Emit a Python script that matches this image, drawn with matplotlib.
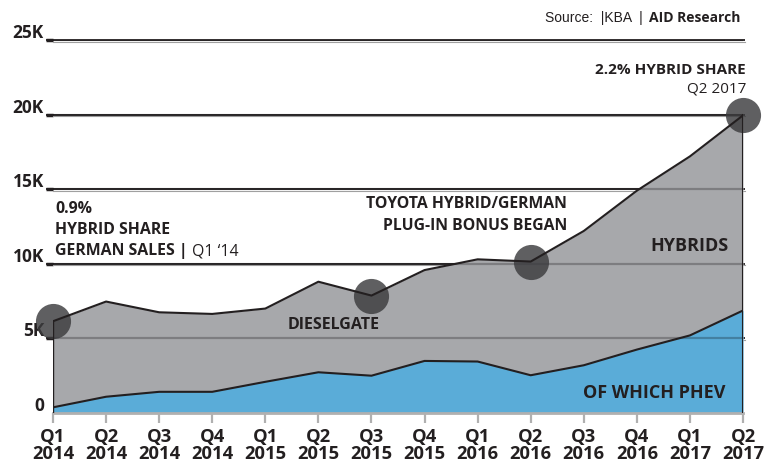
import matplotlib.pyplot as plt
import matplotlib.transforms as mtransforms
import numpy as np

plt.rcParams['font.family'] = ['Open Sans', 'DejaVu Sans']

# quarterly German hybrid registrations
quarters = ["Q1\n2014", "Q2\n2014", "Q3\n2014", "Q4\n2014", "Q1\n2015", "Q2\n2015", "Q3\n2015",
            "Q4\n2015", "Q1\n2016", "Q2\n2016", "Q3\n2016", "Q4\n2016", "Q1\n2017", "Q2\n2017"]
hybrids = [6150, 7470, 6750, 6640, 7000, 8800, 7870, 9580, 10300, 10150, 12200, 14900, 17200, 19950]
phev = [380, 1090, 1420, 1420, 2090, 2730, 2500, 3490, 3450, 2530, 3200, 4250, 5200, 6870]
highlight_idx = [0, 6, 9, 13]
yticks = [0, 5000, 10000, 15000, 20000, 25000]
ytick_labels = ["0", "5K", "10K", "15K", "20K", "25K"]

dark = '#231f20'
grey_area = '#a7a8ab'
blue_area = '#5aacd8'

fig = plt.figure(figsize=(7.71, 4.72), dpi=100)
ax = fig.add_axes([53 / 771, 59 / 472, 690 / 771, 373 / 472])
x = np.arange(len(quarters))
ax.set_xlim(0, len(quarters) - 1)
ax.set_ylim(0, 25000)
ax.axis('off')

# gridlines (under the areas, and lightly again over them)
ytrans = ax.get_yaxis_transform()
below = mtransforms.offset_copy(ytrans, fig=fig, y=-1.5, units='dots')
for v in yticks[1:]:
    ax.plot([-0.010, 1.003], [v, v], transform=ytrans, color=dark, lw=1.3, clip_on=False, zorder=1,
            solid_capstyle='butt')
    ax.plot([-0.010, 0.0], [v, v], transform=ytrans, color=dark, lw=2.5, clip_on=False, zorder=1,
            solid_capstyle='butt')
    ax.plot([0.0, 1.003], [v, v], transform=below, color='#a0a0a0', lw=0.8, clip_on=False, zorder=1)
    ax.plot([0.0, 1.0], [v, v], transform=ytrans, color='black', alpha=0.25, lw=1.6, zorder=3)

# stacked areas
ax.fill_between(x, 0, hybrids, color=grey_area, lw=0, zorder=2)
ax.fill_between(x, 0, phev, color=blue_area, lw=0, zorder=2)

# highlight circles
ax.scatter([x[i] for i in highlight_idx], [hybrids[i] for i in highlight_idx], s=640,
           color='#3c3c3e', alpha=0.82, lw=0, zorder=5, clip_on=False)

ax.plot(x, hybrids, color=dark, lw=1.5, zorder=6)
ax.plot(x, phev, color=dark, lw=1.5, zorder=6)
ax.plot([x[0], x[0]], [0, hybrids[0]], color=dark, lw=1.0, zorder=6)
ax.plot([x[-1], x[-1]], [0, hybrids[-1]], color=dark, lw=1.5, zorder=6)

# baseline and tick marks
ax.plot([0, 1], [0, 0], transform=ytrans, color='#b0b0b0', lw=2.0, zorder=4, clip_on=False)
ax.plot(x, np.zeros(len(x)), ls='none', marker=3, markersize=7, markeredgewidth=1.6,
        color='#b0b0b0', zorder=4, clip_on=False)

# x labels
for i, lab in zip(x, quarters):
    ax.annotate(lab, (i, 0), xytext=(0, -11), textcoords='offset points', ha='center', va='top',
                fontsize=13.2, fontweight='bold', color=dark, linespacing=0.92)

# y labels
for v, lab in zip(yticks, ytick_labels):
    ax.annotate(lab, (-0.013, v), xycoords=ytrans, xytext=(0, 1.5), textcoords='offset points',
                ha='right', va='baseline', fontsize=12.5, fontweight='bold', color=dark)

# annotations
fig.text(740 / 771, 1 - 18 / 472, "AID Research", ha='right', va='center', fontsize=10,
         fontweight='bold', color=dark)
fig.text(643 / 771, 1 - 18 / 472, "Source:  |KBA  |", ha='right', va='center', fontsize=10,
         color=dark, family=['Liberation Sans', 'DejaVu Sans'])
fig.text(746 / 771, 1 - 70 / 472, "2.2% HYBRID SHARE", ha='right', va='center', fontsize=11,
         fontweight='bold', color=dark)
fig.text(746 / 771, 1 - 89 / 472, "Q2 2017", ha='right', va='center', fontsize=11, color=dark)

fig.text(55 / 771, 1 - 209 / 472, "0.9%", ha='left', va='center', fontsize=11.4,
         fontweight='bold', color=dark)
fig.text(55 / 771, 1 - 230 / 472, "HYBRID SHARE", ha='left', va='center', fontsize=11.4,
         fontweight='bold', color=dark)
t = fig.text(55 / 771, 1 - 251 / 472, "GERMAN SALES | ", ha='left', va='center', fontsize=11.4,
             fontweight='bold', color=dark)
fig.canvas.draw()
bb = t.get_window_extent()
fig.text(bb.x1 / 771, 1 - 251 / 472, "Q1 \u201814", ha='left', va='center', fontsize=11.4,
         color=dark)

fig.text(567 / 771, 1 - 204 / 472, "TOYOTA HYBRID/GERMAN", ha='right', va='center',
         fontsize=11.3, fontweight='bold', color=dark)
fig.text(567 / 771, 1 - 226 / 472, "PLUG-IN BONUS BEGAN", ha='right', va='center',
         fontsize=11.3, fontweight='bold', color=dark)
fig.text(288 / 771, 1 - 325 / 472, "DIESELGATE", ha='left', va='center', fontsize=11.5,
         fontweight='bold', color=dark)
fig.text(690 / 771, 1 - 246 / 472, "HYBRIDS", ha='center', va='center', fontsize=13,
         fontweight='bold', color=dark)
fig.text(654 / 771, 1 - 393 / 472, "OF WHICH PHEV", ha='center', va='center', fontsize=13,
         fontweight='bold', color=dark)

fig.savefig('out.png', dpi=100)
